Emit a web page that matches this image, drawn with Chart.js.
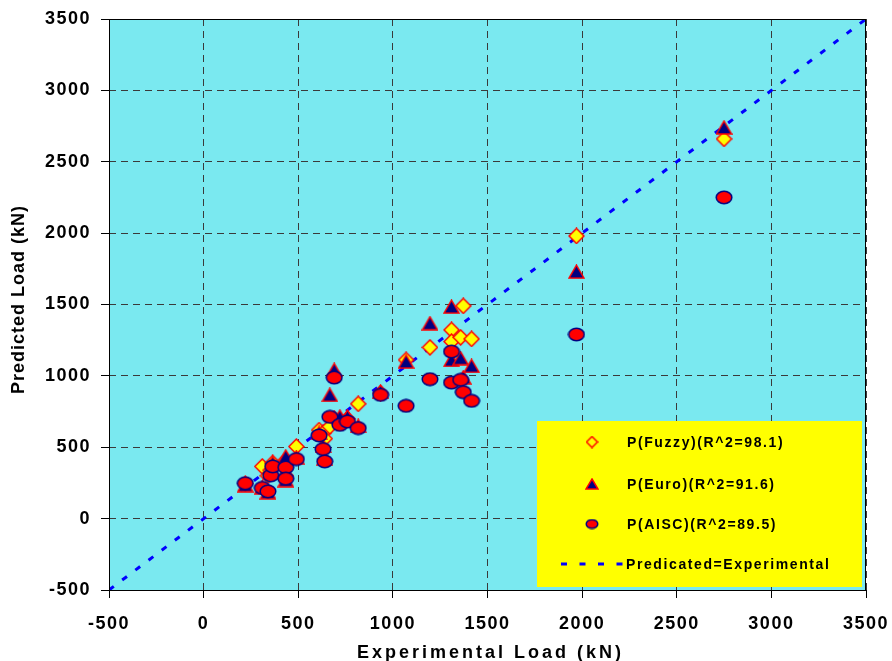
<!DOCTYPE html>
<html>
<head>
<meta charset="utf-8">
<title>Predicted vs Experimental Load</title>
<script src="https://cdn.jsdelivr.net/npm/chart.js"></script>
<style>
  html, body { margin: 0; padding: 0; background: #fff; }
  #chart { display: block; }
</style>
</head>
<body>
<canvas id="chart" width="892" height="661"></canvas>
<script>
// Experimental load of each specimen (kN)
const experimental = [220, 310, 340, 355, 365, 434, 434, 490, 610, 631, 640, 667, 690, 720, 760, 817, 935, 1070, 1196, 1310, 1310, 1358, 1372, 1416, 1970, 2750];
// Predicted loads (kN) for the same specimens
const fuzzy = [245, 366, 300, 340, 390, 410, 300, 505, 620, 600, 560, 645, 700, 690, 700, 804, 880, 1112, 1200, 1322, 1240, 1270, 1490, 1259, 1980, 2660];
const euro  = [235, 220, 185, 320, 390, 436, 270, 430, 600, 510, 420, 867, 1042, 715, 715, 650, 890, 1100, 1369, 1485, 1112, 1124, 990, 1070, 1730, 2740];
const aisc  = [248, 215, 191, 303, 366, 359, 280, 417, 583, 487, 401, 713, 988, 657, 680, 634, 867, 790, 977, 1170, 953, 972, 886, 825, 1290, 2250];
// Predicated = Experimental reference line end points
const lineEnds = [-500, 3500];
// tick values used for both axes
const axisTicks = [-500, 0, 500, 1000, 1500, 2000, 2500, 3000, 3500];

const seriesNames = ['P(Fuzzy)(R^2=98.1)', 'P(Euro)(R^2=91.6)', 'P(AISC)(R^2=89.5)', 'Predicated=Experimental'];
const xTitle = 'Experimental Load (kN)';
const yTitle = 'Predicted Load (kN)';

const FONT = "Arial, 'Liberation Sans', sans-serif";

/**
 * Build a small canvas used as a point marker
 */
function makeMarker(type, w, h) {
    const c = document.createElement('canvas');
    c.width = w;
    c.height = h;
    const g = c.getContext('2d');
    g.lineWidth = 1.5;
    g.beginPath();
    if (type === 'diamond') {
        g.moveTo(w / 2, 1);
        g.lineTo(w - 1, h / 2);
        g.lineTo(w / 2, h - 1);
        g.lineTo(1, h / 2);
        g.closePath();
        g.fillStyle = '#ffff00';
        g.strokeStyle = '#ff0000';
    } else if (type === 'triangle') {
        g.moveTo(w / 2, 1);
        g.lineTo(w - 1, h - 1);
        g.lineTo(1, h - 1);
        g.closePath();
        g.fillStyle = '#000080';
        g.strokeStyle = '#ff0000';
    } else {
        g.ellipse(w / 2, h / 2, w / 2 - 1.2, h / 2 - 1.2, 0, 0, Math.PI * 2);
        g.fillStyle = '#ff0000';
        g.strokeStyle = '#000080';
    }
    g.fill();
    g.stroke();
    return c;
}

const markers = {
    fuzzy: makeMarker('diamond', 17, 17),
    euro: makeMarker('triangle', 17, 15),
    aisc: makeMarker('ellipse', 18, 15)
};
const legendMarkers = [
    makeMarker('diamond', 13, 13),
    makeMarker('triangle', 14, 12),
    makeMarker('ellipse', 14, 11)
];

function toPoints(xs, ys) {
    return xs.map((x, i) => ({ x: x, y: ys[i] }));
}

// cyan plot area + letter spacing for tick labels
const plotBackground = {
    id: 'plotBackground',
    beforeDraw(chart) {
        const { ctx, chartArea: a } = chart;
        ctx.save();
        ctx.fillStyle = '#7AE9F0';
        ctx.fillRect(a.left, a.top, a.right - a.left, a.bottom - a.top);
        ctx.restore();
        ctx.letterSpacing = '1.5px';
    }
};

// border, axis titles and the yellow legend box
const decorations = {
    id: 'decorations',
    afterDraw(chart) {
        const { ctx, chartArea: a } = chart;
        ctx.save();

        // plot border
        ctx.strokeStyle = '#000';
        ctx.lineWidth = 1;
        ctx.strokeRect(a.left + 0.5, a.top + 0.5, a.right - a.left - 1, a.bottom - a.top);

        // axis titles
        ctx.fillStyle = '#000';
        ctx.textBaseline = 'middle';
        ctx.textAlign = 'center';
        ctx.font = 'bold 18px ' + FONT;
        ctx.letterSpacing = '3px';
        ctx.fillText(xTitle, (a.left + a.right) / 2 + 3, 653);

        ctx.save();
        ctx.translate(19, (a.top + a.bottom) / 2 - 5);
        ctx.rotate(-Math.PI / 2);
        ctx.letterSpacing = '1px';
        ctx.fillText(yTitle, 0, 0);
        ctx.restore();

        // legend box
        const box = { x: 537, y: 421, w: 325, h: 166 };
        const rows = [442, 484, 524, 564];
        const markerX = 592;
        const textX = 627;
        ctx.fillStyle = '#ffff00';
        ctx.fillRect(box.x, box.y, box.w, box.h);

        legendMarkers.forEach((m, i) => {
            ctx.drawImage(m, markerX - m.width / 2, rows[i] - m.height / 2);
        });

        ctx.strokeStyle = '#0000ff';
        ctx.lineWidth = 3;
        ctx.setLineDash([6, 12.5]);
        ctx.beginPath();
        ctx.moveTo(561, rows[3]);
        ctx.lineTo(623, rows[3]);
        ctx.stroke();
        ctx.setLineDash([]);

        ctx.fillStyle = '#000';
        ctx.textAlign = 'left';
        ctx.font = 'bold 14px ' + FONT;
        ctx.letterSpacing = '1.6px';
        seriesNames.forEach((name, i) => {
            ctx.fillText(name, i === 3 ? 626 : textX, rows[i] + 1);
        });

        ctx.restore();
    }
};

function axisOptions(isX) {
    return {
        type: 'linear',
        min: axisTicks[0],
        max: axisTicks[axisTicks.length - 1],
        afterBuildTicks: function(scale) {
            scale.ticks = axisTicks.map(v => ({ value: v }));
        },
        afterFit: function(scale) {
            // fixed axis sizes so the plot area sits where the original does
            if (isX) {
                scale.height = 71;
                scale.paddingLeft = 0;
                scale.paddingRight = 0;
            } else {
                scale.width = 109;
                scale.paddingTop = 0;
                scale.paddingBottom = 0;
            }
        },
        grid: {
            color: '#3a3a3a',
            lineWidth: 1,
            drawTicks: true,
            tickLength: 8,
            tickColor: '#000',
            tickWidth: 1,
            tickBorderDash: []
        },
        border: {
            display: false,
            dash: [7, 5]
        },
        ticks: {
            color: '#000',
            font: { family: FONT, size: 18, weight: 'bold' },
            padding: isX ? 15 : 10,
            maxRotation: 0,
            autoSkip: false,
            callback: function(value) {
                return String(value);
            }
        },
        title: { display: false }
    };
}

new Chart(document.getElementById('chart'), {
    type: 'scatter',
    data: {
        datasets: [
            {
                label: seriesNames[0],
                data: toPoints(experimental, fuzzy),
                pointStyle: markers.fuzzy,
                pointRadius: 8,
                order: 3
            },
            {
                label: seriesNames[1],
                data: toPoints(experimental, euro),
                pointStyle: markers.euro,
                pointRadius: 8,
                order: 2
            },
            {
                label: seriesNames[2],
                data: toPoints(experimental, aisc),
                pointStyle: markers.aisc,
                pointRadius: 8,
                order: 1
            },
            {
                label: seriesNames[3],
                data: toPoints(lineEnds, lineEnds),
                showLine: true,
                pointRadius: 0,
                borderColor: '#0000ff',
                borderWidth: 3,
                borderDash: [6, 10.5],
                fill: false,
                order: 4
            }
        ]
    },
    options: {
        responsive: false,
        animation: false,
        events: [],
        layout: {
            padding: { top: 19, right: 26, left: 0, bottom: 0 }
        },
        plugins: {
            legend: { display: false },
            tooltip: { enabled: false },
            title: { display: false }
        },
        scales: {
            x: axisOptions(true),
            y: axisOptions(false)
        }
    },
    plugins: [plotBackground, decorations]
});
</script>
</body>
</html>
